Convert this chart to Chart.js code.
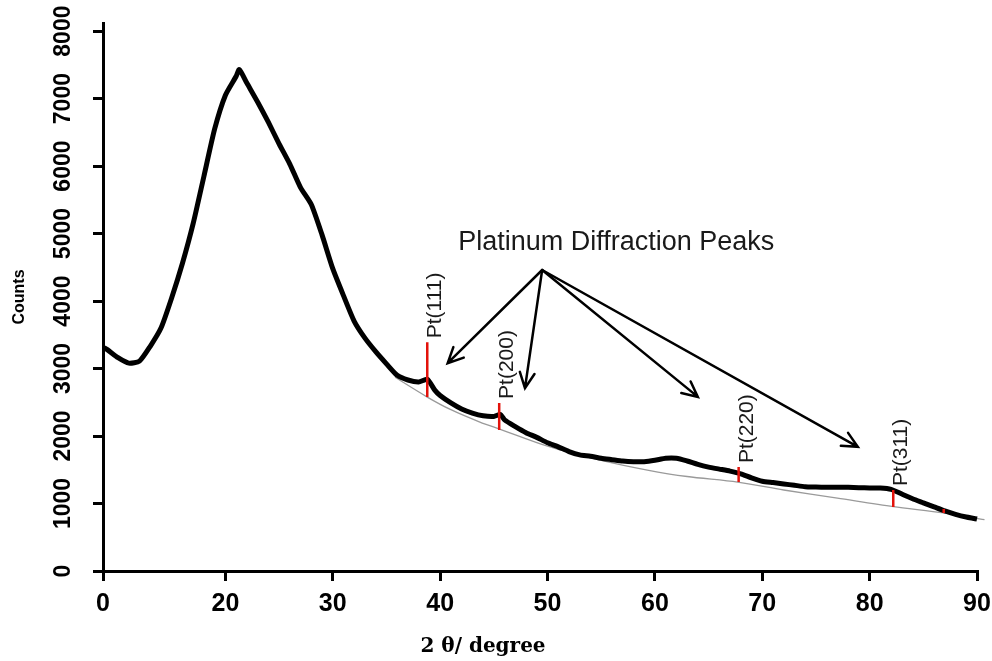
<!DOCTYPE html>
<html>
<head>
<meta charset="utf-8">
<script src="https://cdn.jsdelivr.net/npm/chart.js@4"></script>
<style>
  body { margin: 0; background: #fff; }
  #wrap { width: 992px; height: 661px; }
</style>
</head>
<body>
<div id="wrap"><canvas id="Chart"></canvas></div>
<script>
// XRD pattern (2 theta in degrees, counts)
const twoTheta = [8.7, 9, 10, 11, 12, 13, 14, 15, 16, 17, 18, 19, 20, 21, 21.3, 22, 23, 24, 25, 26, 27, 28, 29, 30,
  31, 32, 33, 34, 35, 36, 37, 38, 38.8, 39.5, 40, 41, 42, 43, 44, 45, 45.6, 46, 47, 48, 49, 50,
  51, 52, 53, 54, 55, 56, 57, 58, 59, 60, 61, 62, 63, 64, 65, 66, 67, 68, 69, 70,
  71, 72, 73, 74, 75, 76, 77, 78, 79, 80, 81, 82, 83, 84, 85, 86, 87, 88, 89, 90, 90.7];
const counts = [3310, 3280, 3160, 3080, 3110, 3330, 3600, 4050, 4560, 5150, 5850, 6550, 7050, 7330, 7430, 7230, 6950, 6650, 6330, 6030, 5680, 5430, 4980, 4480,
  4080, 3700, 3450, 3250, 3070, 2900, 2830, 2800, 2840, 2680, 2600, 2490, 2400, 2340, 2300, 2290, 2320, 2240, 2140, 2050, 1980, 1900,
  1840, 1770, 1720, 1700, 1670, 1650, 1630, 1620, 1620, 1640, 1670, 1670, 1630, 1580, 1540, 1510, 1480, 1440, 1380, 1330,
  1310, 1290, 1270, 1250, 1245, 1240, 1240, 1240, 1235, 1230, 1230, 1210, 1140, 1070, 1010, 950, 890, 840, 800, 770, 740];

// background line under the Pt peaks
const baseTheta = [35.8, 38.8, 41, 43.7, 45.6, 50, 55, 59.3, 63, 67.7, 72, 77, 82.2, 86.9, 90.7];
const baseCounts = [2870, 2577, 2390, 2207, 2100, 1850, 1640, 1496, 1400, 1318, 1200, 1080, 955, 860, 760];

// Pt reflections (red marks)
const peakTheta = [38.8, 45.5, 67.8, 82.2, 86.9];
const peakTop = [3390, 2490, 1540, 1200, 920];
const peakBottom = [2577, 2088, 1318, 948, 860];
const peakNames = ["Pt(111)", "Pt(200)", "Pt(220)", "Pt(311)", ""];

// axis ticks (first x tick is printed as "0" on the original)
const xTicks = [8.6, 20, 30, 40, 50, 60, 70, 80, 90];
const xTickLabels = ["0", "20", "30", "40", "50", "60", "70", "80", "90"];
const yTicks = [0, 1000, 2000, 3000, 4000, 5000, 6000, 7000, 8000];

// annotation with arrows
const noteText = "Platinum Diffraction Peaks";
const noteAt = [56.4, 4860];
const arrowFrom = [49.5, 4460];
const arrowTo = [[40.7, 3080], [47.9, 2710], [64.0, 2580], [78.9, 1840]];

let xrd = twoTheta.map((t, i) => ({ x: t, y: counts[i] }));
let base = baseTheta.map((t, i) => ({ x: t, y: baseCounts[i] }));
let marks = [];
peakTheta.forEach((t, i) => {
  marks.push({ x: t, y: peakTop[i] }, { x: t, y: peakBottom[i] }, { x: t, y: null });
});

const notes = {
  id: "notes",
  afterDatasetsDraw(chart) {
    const ctx = chart.ctx;
    const x = chart.scales.x;
    const y = chart.scales.y;
    ctx.save();

    // Pt labels, vertical
    ctx.fillStyle = "#1a1a1a";
    ctx.font = "21px 'Liberation Sans', Arial, sans-serif";
    ctx.textAlign = "left";
    ctx.textBaseline = "alphabetic";
    peakNames.forEach((name, i) => {
      if (!name) return;
      ctx.save();
      ctx.translate(x.getPixelForValue(peakTheta[i]) + 14, y.getPixelForValue(peakTop[i]) - 4);
      ctx.rotate(-Math.PI / 2);
      ctx.fillText(name, 0, 0);
      ctx.restore();
    });

    // note text
    ctx.font = "27px 'Liberation Sans', Arial, sans-serif";
    ctx.textAlign = "center";
    ctx.textBaseline = "middle";
    ctx.fillText(noteText, x.getPixelForValue(noteAt[0]), y.getPixelForValue(noteAt[1]));

    // arrows
    ctx.strokeStyle = "#000";
    ctx.lineWidth = 2.5;
    ctx.lineCap = "round";
    const fx = x.getPixelForValue(arrowFrom[0]);
    const fy = y.getPixelForValue(arrowFrom[1]);
    arrowTo.forEach(p => {
      const tx = x.getPixelForValue(p[0]);
      const ty = y.getPixelForValue(p[1]);
      const a = Math.atan2(ty - fy, tx - fx);
      ctx.beginPath();
      ctx.moveTo(fx, fy);
      ctx.lineTo(tx, ty);
      ctx.moveTo(tx - 17 * Math.cos(a - 0.45), ty - 17 * Math.sin(a - 0.45));
      ctx.lineTo(tx, ty);
      ctx.lineTo(tx - 17 * Math.cos(a + 0.45), ty - 17 * Math.sin(a + 0.45));
      ctx.stroke();
    });

    // x title
    ctx.fillStyle = "#000";
    ctx.font = "bold 20px 'DejaVu Serif', 'Liberation Serif', serif";
    ctx.textAlign = "center";
    ctx.textBaseline = "middle";
    ctx.fillText("2 \u03b8/ degree", 483, 647);
    ctx.restore();
  }
};

let ctx = document.getElementById("Chart").getContext("2d");
let myChart = new Chart(ctx, {
  type: "line",
  data: {
    datasets: [
      {
        label: "Pt",
        data: marks,
        borderColor: "#e3120b",
        borderWidth: 2.5,
        pointRadius: 0,
        spanGaps: false,
        order: 0,
      },
      {
        label: "XRD",
        data: xrd,
        borderColor: "#000",
        borderWidth: 5,
        pointRadius: 0,
        tension: 0.2,
        clip: false,
        order: 1,
      },
      {
        label: "background",
        data: base,
        borderColor: "#9a9a9a",
        borderWidth: 1.3,
        pointRadius: 0,
        tension: 0.3,
        clip: false,
        order: 2,
      },
    ],
  },
  options: {
    responsive: true,
    maintainAspectRatio: false,
    animation: false,
    layout: { padding: { top: 23, right: 15, left: 0, bottom: 0 } },
    plugins: {
      legend: { display: false },
      tooltip: { enabled: false },
    },
    scales: {
      x: {
        type: "linear",
        min: 8.6,
        max: 90,
        afterBuildTicks: (s) => { s.ticks = xTicks.map(v => ({ value: v })); },
        afterFit: (s) => { s.height = 90; s.paddingLeft = 0; s.paddingRight = 0; },
        border: { color: "#000", width: 3 },
        grid: { drawOnChartArea: false, color: "#000", lineWidth: 3, tickLength: 10 },
        ticks: {
          color: "#000",
          padding: 8,
          maxRotation: 0,
          font: { family: "'Liberation Sans', Arial, sans-serif", size: 25, weight: "bold" },
          callback: (v) => xTickLabels[xTicks.indexOf(v)],
        },
      },
      y: {
        min: 0,
        max: 8120,
        afterBuildTicks: (s) => { s.ticks = yTicks.map(v => ({ value: v })); },
        afterFit: (s) => { s.width = 103; s.paddingTop = 0; s.paddingBottom = 0; },
        border: { color: "#000", width: 3 },
        grid: { drawOnChartArea: false, color: "#000", lineWidth: 3, tickLength: 10 },
        title: {
          display: true,
          text: "Counts",
          color: "#000",
          padding: { top: 10, bottom: 0 },
          font: { family: "'Liberation Sans', Arial, sans-serif", size: 16, weight: "bold" },
        },
        ticks: {
          color: "#000",
          padding: 4,
          minRotation: 90,
          maxRotation: 90,
          crossAlign: "center",
          font: { family: "'Liberation Sans', Arial, sans-serif", size: 23, weight: "bold" },
          callback: (v) => String(v),
        },
      },
    },
  },
  plugins: [notes],
});
</script>
</body>
</html>
